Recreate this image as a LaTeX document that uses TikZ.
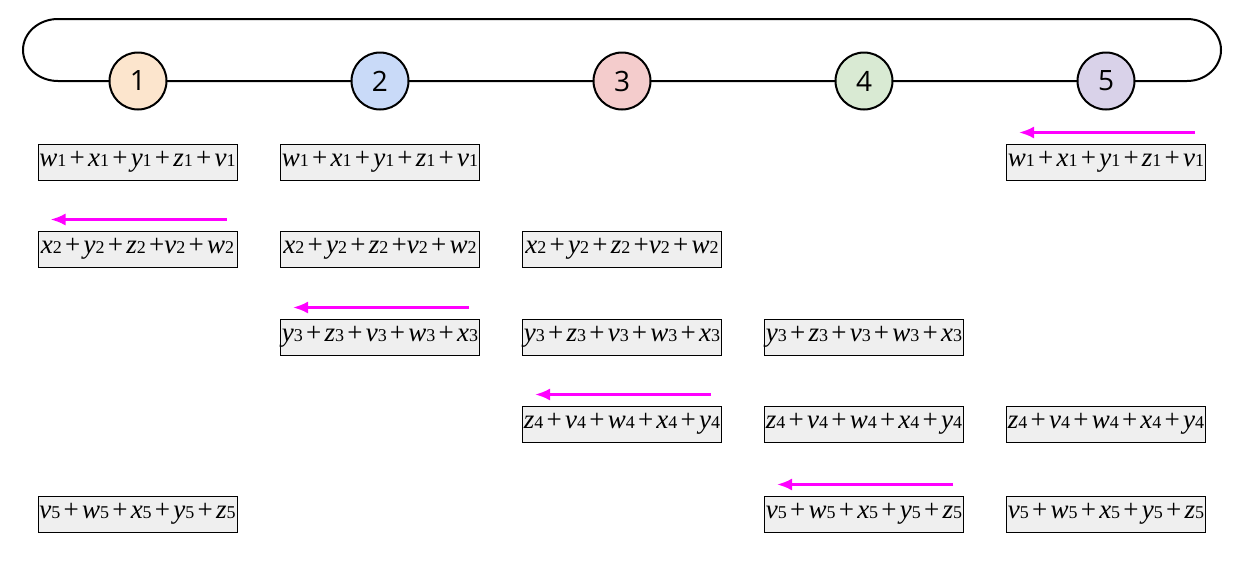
\documentclass[tikz,border=0pt]{standalone}
\usepackage{fontspec}
\setmainfont{Liberation Serif}
\newfontfamily\numfont{Open Sans}
\usetikzlibrary{arrows.meta}
\definecolor{cA}{HTML}{FCE5CD}
\definecolor{cB}{HTML}{C9DAF8}
\definecolor{cC}{HTML}{F4CCCC}
\definecolor{cD}{HTML}{D9EAD3}
\definecolor{cE}{HTML}{D9D2E9}
\definecolor{boxgray}{HTML}{EFEFEF}
\definecolor{arrmag}{HTML}{FF00FF}
\newcommand{\vr}[2]{\textit{#1}{\fontsize{18}{18}\selectfont #2}}
\newcommand{\pl}{\hspace{0.12em}+\hspace{0.12em}}
\newcommand{\pn}{\hspace{0.12em}+}
\tikzset{
  proc/.style={circle,draw,line width=2pt,minimum size=57pt,inner sep=0pt,font=\numfont\fontsize{28}{28}\selectfont},
  chunk/.style={draw,line width=1pt,fill=boxgray,minimum width=199pt,minimum height=36pt,inner sep=0pt,font=\fontsize{27}{27}\selectfont},
  sendarr/.style={draw=arrmag,line width=2.5pt,-{Latex[length=15pt,width=12pt]}},
  ring/.style={line width=2pt}
}
\begin{document}
\begin{tikzpicture}[x=1pt,y=-1pt]
\useasboundingbox (0,0) rectangle (1240,563);
% ring
\coordinate (tl) at (58,19);
\coordinate (tr) at (1187,19);
\coordinate (bl) at (58,81);
\coordinate (br) at (1187,81);
\draw[ring] (tl) -- (tr) arc[start angle=90,end angle=-90,x radius=34pt,y radius=31pt] -- (bl) arc[start angle=270,end angle=90,x radius=35pt,y radius=31pt];
% processes
\node[proc,fill=cA] (p1) at (138,81) {1};
\node[proc,fill=cB] (p2) at (380,81) {2};
\node[proc,fill=cC] (p3) at (622,81) {3};
\node[proc,fill=cD] (p4) at (864,81) {4};
\node[proc,fill=cE] (p5) at (1106,81) {5};
% row texts
\newcommand{\rowA}{\vr{w}{1}\pl\vr{x}{1}\pl\vr{y}{1}\pl\vr{z}{1}\pl\vr{v}{1}}
\newcommand{\rowB}{\vr{x}{2}\pl\vr{y}{2}\pl\vr{z}{2}\pn\vr{v}{2}\pl\vr{w}{2}}
\newcommand{\rowC}{\vr{y}{3}\pl\vr{z}{3}\pl\vr{v}{3}\pl\vr{w}{3}\pl\vr{x}{3}}
\newcommand{\rowD}{\vr{z}{4}\pl\vr{v}{4}\pl\vr{w}{4}\pl\vr{x}{4}\pl\vr{y}{4}}
\newcommand{\rowE}{\vr{v}{5}\pl\vr{w}{5}\pl\vr{x}{5}\pl\vr{y}{5}\pl\vr{z}{5}}
% row 1
\node[chunk] (a1) at (137.5,162) {\rowA};
\node[chunk] (a2) at (380,162) {\rowA};
\node[chunk] (a5) at (1106,162) {\rowA};
% row 2
\node[chunk] (b1) at (137.5,249) {\rowB};
\node[chunk] (b2) at (380,249) {\rowB};
\node[chunk] (b3) at (622,249) {\rowB};
% row 3
\node[chunk] (c2) at (380,337) {\rowC};
\node[chunk] (c3) at (622,337) {\rowC};
\node[chunk] (c4) at (864,337) {\rowC};
% row 4
\node[chunk] (d3) at (622,424) {\rowD};
\node[chunk] (d4) at (864,424) {\rowD};
\node[chunk] (d5) at (1106,424) {\rowD};
% row 5
\node[chunk] (e1) at (137.5,514) {\rowE};
\node[chunk] (e4) at (864,514) {\rowE};
\node[chunk] (e5) at (1106,514) {\rowE};
% arrows
\foreach \n in {a5,b1,c2,d3,e4}{
  \coordinate (\n s) at ([xshift=89pt,yshift=11pt]\n.north);
  \coordinate (\n e) at ([xshift=-87pt,yshift=11pt]\n.north);
  \draw[sendarr] (\n s) -- (\n e);
}
\end{tikzpicture}
\end{document}
